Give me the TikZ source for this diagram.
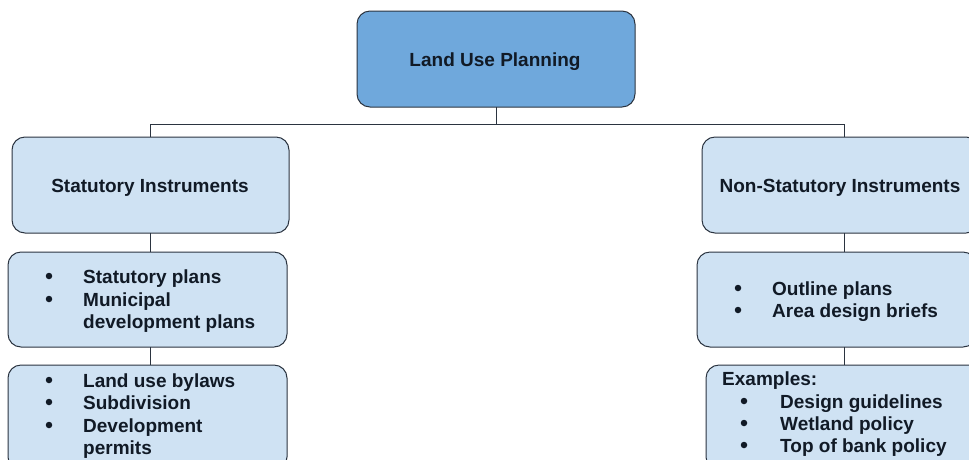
\documentclass[tikz,border=0pt]{standalone}
\usepackage{fontspec}
\setmainfont{Liberation Sans}
\definecolor{topfill}{HTML}{6FA8DC}
\definecolor{boxfill}{HTML}{CFE2F3}
\definecolor{edge}{HTML}{2B3440}
\definecolor{ink}{HTML}{111A26}
\begin{document}
\begin{tikzpicture}[x=1pt,y=-1pt,
  box/.style={draw=edge,line width=1pt,rounded corners=13pt,fill=boxfill},
  txt/.style={font=\fontsize{19}{22}\selectfont\bfseries,text=ink,inner sep=0pt,anchor=base west},
  ctxt/.style={font=\fontsize{19}{22}\selectfont\bfseries,text=ink,inner sep=0pt,anchor=base},
  bul/.style={circle,fill=ink,inner sep=0pt,minimum size=6.5pt},
  link/.style={draw=edge,line width=1pt}]
\useasboundingbox (0,0) rectangle (969,459);
\clip (0,0) rectangle (969,459);
% boxes
\draw[box,fill=topfill] (357,11) rectangle (635,107);
\coordinate (top) at (496,107);
\draw[box] (12,137) rectangle (289,233);
\draw[box] (8,252) rectangle (287,347);
\draw[box] (8,365) rectangle (287,470);
\draw[box] (702,137) rectangle (979,233);
\draw[box] (697,252) rectangle (976,347);
\draw[box] (706,365) rectangle (990,470);
% coordinates
\coordinate (bar) at (496,124);
\coordinate (lbar) at (150,124);
\coordinate (rbar) at (844,124);
\coordinate (l1t) at (150,137);
\coordinate (l1b) at (150,233);
\coordinate (l2t) at (150,252);
\coordinate (l2b) at (150,347);
\coordinate (l3t) at (150,365);
\coordinate (r1t) at (844,137);
\coordinate (r1b) at (844,233);
\coordinate (r2t) at (844,252);
\coordinate (r2b) at (844,347);
\coordinate (r3t) at (844,365);
% connectors
\draw[link] (top) -- (bar);
\draw[link] (lbar) -- (rbar);
\draw[link] (lbar) -- (l1t);
\draw[link] (rbar) -- (r1t);
\draw[link] (l1b) -- (l2t);
\draw[link] (l2b) -- (l3t);
\draw[link] (r1b) -- (r2t);
\draw[link] (r2b) -- (r3t);
% texts
\node[ctxt] (t0) at (495,66) {Land Use Planning};
\node[ctxt] (t1) at (150,192) {Statutory Instruments};
\node[ctxt] (t2) at (840,192) {Non-Statutory Instruments};
% left box 2
\node[bul] (b1) at (49,276) {};
\node[txt] (s1) at (83,283) {Statutory plans};
\node[bul] (b2) at (49,299) {};
\node[txt] (s2) at (83,306) {Municipal};
\node[txt] (s3) at (83,328) {development plans};
% left box 3
\node[bul] (b3) at (49,380) {};
\node[txt] (s4) at (83,387) {Land use bylaws};
\node[bul] (b4) at (49,402) {};
\node[txt] (s5) at (83,409) {Subdivision};
\node[bul] (b5) at (49,425) {};
\node[txt] (s6) at (83,432) {Development};
\node[txt] (s7) at (83,454) {permits};
% right box 2
\node[bul] (b6) at (738,288) {};
\node[txt] (s8) at (772,295) {Outline plans};
\node[bul] (b7) at (738,310) {};
\node[txt] (s9) at (772,317) {Area design briefs};
% right box 3
\node[txt] (s10) at (722,385) {Examples:};
\node[bul] (b8) at (744,401) {};
\node[txt] (s11) at (780,408) {Design guidelines};
\node[bul] (b9) at (744,423) {};
\node[txt] (s12) at (780,430) {Wetland policy};
\node[bul] (b10) at (744,445) {};
\node[txt] (s13) at (780,452) {Top of bank policy};
\end{tikzpicture}
\end{document}
